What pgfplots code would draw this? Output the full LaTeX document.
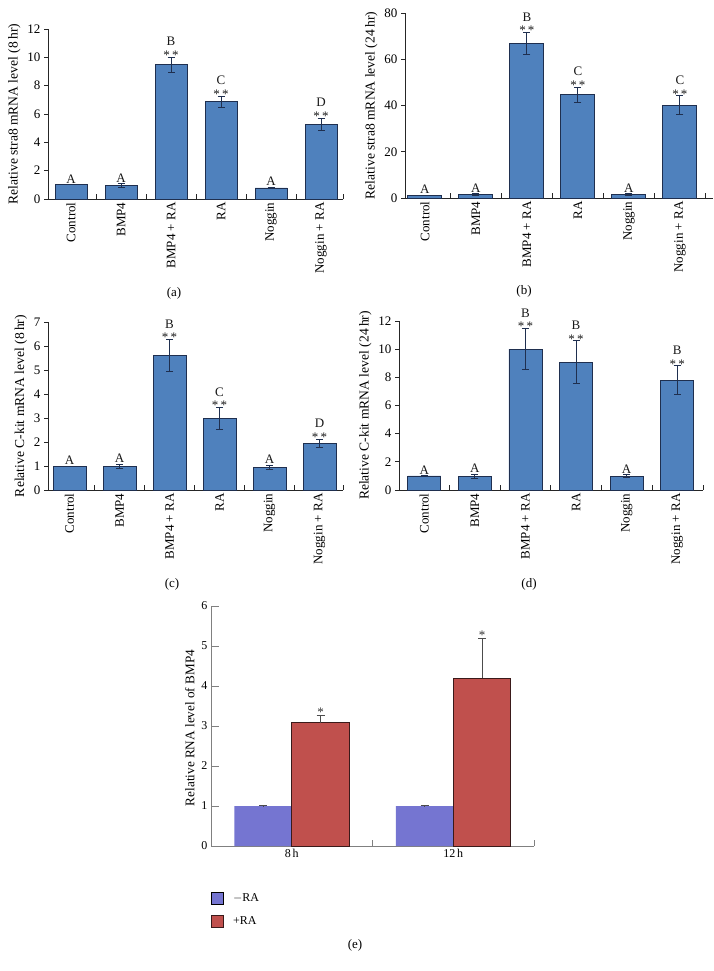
\documentclass[border=0pt]{standalone}
\usepackage{pgfplots}
\pgfplotsset{compat=1.18}
\usepackage{fontspec}
\setmainfont{Liberation Serif}
\definecolor{barblue}{HTML}{4F81BD}
\definecolor{baredge}{HTML}{1F2F4F}
\definecolor{minusra}{HTML}{7575D1}
\definecolor{plusra}{HTML}{C0504D}
\definecolor{plusedge}{HTML}{3A1A1A}
\newcommand{\fs}{\fontsize{13}{15}\selectfont}
\newcommand{\fsl}{\fontsize{13.6}{15}\selectfont}
\newcommand{\fse}{\fontsize{12}{14}\selectfont}
\newcommand{\fsel}{\fontsize{13.2}{15}\selectfont}
\pgfplotsset{
  panel/.style={
    scale only axis, anchor=south west, clip=false,
    axis x line*=bottom, axis y line*=left,
    axis line style={black!85, line width=0.8pt},
    every tick/.style={black!85, line width=0.8pt},
    ymin=0,
    xtick={0,...,5},
    xticklabels={Control,BMP4,BMP4 + RA,RA,Noggin,Noggin + RA},
    x tick label style={rotate=90, anchor=east, font=\fs},
    y tick label style={font=\fs},
    ylabel style={font=\fsl},
    /pgf/number format/assume math mode=true,
    major x tick style={draw=none},
    xtick align=inside, ytick align=outside,
    major tick length=4pt, minor tick length=5pt,
  },
  bars/.style={ybar, bar width=#1, fill=barblue, draw=baredge, line width=0.8pt,
    error bars/.cd, y dir=both, y explicit,
    error bar style={line width=0.9pt, color=baredge},
    error mark options={rotate=90, mark size=3.5pt, line width=0.9pt, color=baredge}},
  labA/.style={draw=none, mark=none, nodes near coords, point meta=explicit symbolic,
    every node near coord/.append style={anchor=south, inner sep=0pt, font=\fs, yshift=1.5pt, text=black!90}},
  labS/.style={draw=none, mark=none, nodes near coords, point meta=explicit symbolic,
    every node near coord/.append style={anchor=south, inner sep=0pt, font=\fs, yshift=-2.5pt, text=black!90}},
  labL/.style={draw=none, mark=none, nodes near coords, point meta=explicit symbolic,
    every node near coord/.append style={anchor=south, inner sep=0pt, font=\fs, yshift=11pt, text=black!90}},
}
\begin{document}
\begin{tikzpicture}[x=1pt,y=1pt]
\useasboundingbox (0,0) rectangle (714,-971);

% (a)
\begin{axis}[panel, at={(48pt,-199pt)}, width=295pt, height=170pt,
  xmin=-0.46, xmax=5.44, ymax=12, ytick={0,2,...,12},
  minor xtick={0.5,1.5,2.5,3.5,4.5,5.44},
  ylabel={Relative stra8 mRNA level (8\,hr)}]
\addplot[bars=32pt] coordinates {(0,1) +- (0,0) (1,0.95) +- (0,0.13) (2,9.48) +- (0,0.53) (3,6.87) +- (0,0.4) (4,0.78) +- (0,0.07) (5,5.28) +- (0,0.43)};
\addplot[labA] coordinates {(0,1)[A] (1,1.08)[A] (4,0.85)[A]};
\addplot[labS] coordinates {(2,10.01)[*\,*] (3,7.27)[*\,*] (5,5.71)[*\,*]};
\addplot[labL] coordinates {(2,10.01)[B] (3,7.27)[C] (5,5.71)[D]};
\end{axis}

% (b)
\begin{axis}[panel, at={(405pt,-198pt)}, width=308pt, height=185pt,
  xmin=-0.39, xmax=5.65, ymax=80, ytick={0,20,...,80},
  minor xtick={0.5,1.5,2.5,3.5,4.5,5.5},
  ylabel={Relative stra8 mRNA level (24\,hr)}]
\addplot[bars=34pt] coordinates {(0,1) +- (0,0) (1,1.5) +- (0,0.3) (2,66.8) +- (0,4.9) (3,44.7) +- (0,3.2) (4,1.5) +- (0,0.3) (5,40.1) +- (0,4.1)};
\addplot[labA] coordinates {(0,1.2)[A] (1,1.8)[A] (4,1.8)[A]};
\addplot[labS] coordinates {(2,71.6)[*\,*] (3,47.9)[*\,*] (5,44.2)[*\,*]};
\addplot[labL] coordinates {(2,71.6)[B] (3,47.9)[C] (5,44.2)[C]};
\end{axis}

% (c)
\begin{axis}[panel, at={(48pt,-490pt)}, width=295pt, height=168pt,
  xmin=-0.43, xmax=5.47, ymax=7, ytick={0,...,7},
  minor xtick={0.5,1.5,2.5,3.5,4.5,5.47},
  ylabel={Relative C-kit mRNA level (8\,hr)}]
\addplot[bars=33pt] coordinates {(0,1) +- (0,0) (1,0.98) +- (0,0.1) (2,5.61) +- (0,0.66) (3,2.98) +- (0,0.46) (4,0.94) +- (0,0.1) (5,1.94) +- (0,0.18)};
\addplot[labA] coordinates {(0,1)[A] (1,1.08)[A] (4,1.04)[A]};
\addplot[labS] coordinates {(2,6.27)[*\,*] (3,3.44)[*\,*] (5,2.12)[*\,*]};
\addplot[labL] coordinates {(2,6.27)[B] (3,3.44)[C] (5,2.12)[D]};
\end{axis}

% (d)
\begin{axis}[panel, at={(399pt,-490pt)}, width=304pt, height=169pt,
  xmin=-0.5, xmax=5.51, ymax=12, ytick={0,2,...,12},
  minor xtick={0.5,1.5,2.5,3.5,4.5,5.51},
  ylabel={Relative C-kit mRNA level (24\,hr)}]
\addplot[bars=33pt] coordinates {(0,1) +- (0,0) (1,0.97) +- (0,0.12) (2,10.01) +- (0,1.45) (3,9.07) +- (0,1.53) (4,0.98) +- (0,0.1) (5,7.81) +- (0,1.0)};
\addplot[labA] coordinates {(0,1)[A] (1,1.09)[A] (4,1.08)[A]};
\addplot[labS] coordinates {(2,11.46)[*\,*] (3,10.6)[*\,*] (5,8.81)[*\,*]};
\addplot[labL] coordinates {(2,11.46)[B] (3,10.6)[B] (5,8.81)[B]};
\end{axis}

% (e)
\begin{axis}[scale only axis, anchor=south west, clip=false,
  at={(211pt,-846pt)}, width=323pt, height=240pt,
  ybar, bar width=57.5pt,
  axis x line*=bottom, axis y line*=left,
  axis line style={black!50, line width=0.8pt},
  every tick/.style={black!50, line width=0.8pt},
  xmin=-0.5, xmax=1.5, ymin=0, ymax=6, ytick={0,...,6},
  xtick={0,1}, xticklabels={8\,h,12\,h},
  major x tick style={draw=none},
  minor xtick={0.5,1.5},
  xtick align=inside, ytick align=inside,
  major tick length=8pt, minor tick length=6pt,
  tick label style={font=\fse},
  /pgf/number format/assume math mode=true,
  ylabel={Relative RNA level of BMP4}, ylabel style={font=\fsel, xshift=-2pt},
  legend style={at={(axis description cs:0,-0.19)}, anchor=north west, draw=none, fill=none,
    font=\fse, row sep=11pt, column sep=9pt, inner sep=0pt,
    nodes={inner sep=0pt}, cells={anchor=west}},
  legend image code/.code={\draw[#1] (0pt,-6pt) rectangle (12pt,6pt);},
]
\addplot[bar shift=-28.75pt, fill=minusra, draw=none,
  error bars/.cd, y dir=plus, y explicit,
  error bar style={line width=0.8pt, color=black!70},
  error mark options={rotate=90, mark size=4pt, line width=0.8pt, color=black!70}]
  coordinates {(0,1.0) +- (0,0.005) (1,1.0) +- (0,0.005)};
\addlegendentry{$-$RA}
\addplot[bar shift=28.75pt, fill=plusra, draw=plusedge, line width=0.8pt,
  error bars/.cd, y dir=plus, y explicit,
  error bar style={line width=0.8pt, color=black!70},
  error mark options={rotate=90, mark size=4pt, line width=0.8pt, color=black!70}]
  coordinates {(0,3.08) +- (0,0.19) (1,4.19) +- (0,1.0)};
\addlegendentry{+RA}
\addplot[forget plot, bar shift=28.75pt, draw=none, fill=none, mark=none, nodes near coords, point meta=explicit symbolic,
  every node near coord/.append style={anchor=south, inner sep=0pt, font=\fs, yshift=-1.5pt, text=black!80}]
  coordinates {(0,3.27)[*] (1,5.19)[*]};
\end{axis}

\node[font=\fs] at (174,-293) {(a)};
\node[font=\fs] at (524,-291) {(b)};
\node[font=\fs] at (172,-584) {(c)};
\node[font=\fs] at (529,-584) {(d)};
\node[font=\fs] at (355,-945) {(e)};
\end{tikzpicture}
\end{document}
